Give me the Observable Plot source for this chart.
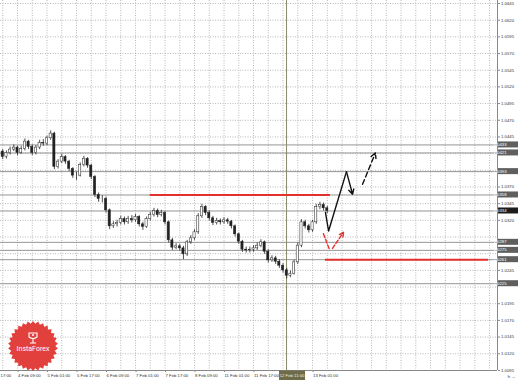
<!DOCTYPE html>
<html><head><meta charset="utf-8">
<script src="https://cdn.jsdelivr.net/npm/d3@7"></script>
<script src="https://cdn.jsdelivr.net/npm/@observablehq/plot@0.6"></script>
<style>body{margin:0;background:#fff;} #chart svg{display:block}</style>
</head><body><div id="chart"></div>
<script>
// ---- data (hourly trading index: 0 = 4 Feb 09:00, candles every 2 h) ----
const firstOpen = 1.0426;
const closes = [1.0423,1.0415,1.0421,1.0426,1.0429,1.0421,1.0427,1.0438,1.0430,1.0421,
1.0429,1.0436,1.0435,1.0443,1.0450,1.0400,1.0408,1.0415,1.0408,1.0397,
1.0387,1.0387,1.0403,1.0412,1.0402,1.0385,1.0358,1.0352,1.0352,1.0335,
1.0311,1.0314,1.0316,1.0322,1.0317,1.0322,1.0320,1.0325,1.0314,1.0310,
1.0322,1.0328,1.0334,1.0328,1.0331,1.0317,1.0290,1.0279,1.0281,1.0278,
1.0269,1.0287,1.0293,1.0302,1.0326,1.0340,1.0331,1.0323,1.0316,1.0319,
1.0317,1.0320,1.0318,1.0311,1.0299,1.0288,1.0276,1.0275,1.0276,1.0278,
1.0282,1.0287,1.0273,1.0260,1.0263,1.0258,1.0252,1.0245,1.0237,1.0240,
1.0257,1.0282,1.0317,1.0311,1.0305,1.0317,1.0340,1.0343,1.0338,1.0334];
const highs = [1.0430,1.0426,1.0424,1.0430,1.0433,1.0431,1.0431,1.0442,1.0440,1.0433,
1.0432,1.0440,1.0441,1.0446,1.0454,1.0452,1.0411,1.0419,1.0417,1.0410,
1.0399,1.0392,1.0406,1.0416,1.0414,1.0404,1.0387,1.0361,1.0357,1.0355,
1.0337,1.0318,1.0320,1.0326,1.0325,1.0326,1.0327,1.0329,1.0327,1.0317,
1.0325,1.0332,1.0338,1.0337,1.0335,1.0333,1.0319,1.0293,1.0285,1.0284,
1.0281,1.0290,1.0297,1.0306,1.0330,1.0344,1.0342,1.0334,1.0326,1.0323,
1.0322,1.0324,1.0323,1.0320,1.0313,1.0301,1.0290,1.0280,1.0280,1.0282,
1.0286,1.0291,1.0289,1.0276,1.0267,1.0266,1.0261,1.0255,1.0248,1.0244,
1.0260,1.0286,1.0321,1.0320,1.0314,1.0320,1.0344,1.0347,1.0346,1.0341];
const lows = [1.0419,1.0411,1.0412,1.0418,1.0423,1.0417,1.0419,1.0424,1.0426,1.0417,
1.0418,1.0426,1.0431,1.0432,1.0440,1.0396,1.0397,1.0405,1.0404,1.0393,
1.0383,1.0380,1.0385,1.0400,1.0398,1.0381,1.0354,1.0347,1.0346,1.0331,
1.0306,1.0308,1.0310,1.0313,1.0313,1.0314,1.0316,1.0317,1.0310,1.0305,
1.0308,1.0319,1.0325,1.0324,1.0325,1.0313,1.0286,1.0275,1.0276,1.0274,
1.0261,1.0266,1.0284,1.0290,1.0299,1.0323,1.0327,1.0319,1.0312,1.0313,
1.0313,1.0314,1.0314,1.0307,1.0295,1.0284,1.0272,1.0271,1.0271,1.0272,
1.0275,1.0279,1.0269,1.0256,1.0257,1.0254,1.0248,1.0241,1.0232,1.0234,
1.0238,1.0254,1.0279,1.0307,1.0301,1.0302,1.0314,1.0336,1.0334,1.0330];

// horizontal levels (gray) and their right-axis boxes
const levels = [1.0433, 1.0421, 1.0393, 1.0358, 1.0334, 1.0287, 1.0275, 1.0261, 1.0225];
const bidLevel = 1.0334;
// red levels
const redPrices = [1.0358, 1.0261];
const redStart = [72, 167];
const redEnd = [169.7, 255.4];
// black forecast path
const fcHours = [167.0, 168.7, 178.4, 181.7];
const fcPrices = [1.0332, 1.0304, 1.0393, 1.0359];
// black dashed forecast arrow
const dashHours = [187.1, 194.1];
const dashPrices = [1.0374, 1.0421];
// red alternative
const redAltHours = [165.9, 169.2, 170.8, 176.8];
const redAltPrices = [1.0300, 1.0276, 1.0278, 1.0302];

// axes
const yTicksAll = d3.range(1.0095, 1.06451, 0.0025);
const xTickHours = [-16, 0, 16, 32, 48, 64, 80, 96, 112, 128, 144, 160];
const xTickLabels = ["3 Feb 17:00","4 Feb 09:00","5 Feb 01:00","5 Feb 17:00","6 Feb 09:00","7 Feb 01:00",
  "7 Feb 17:00","8 Feb 09:00","11 Feb 01:00","11 Feb 17:00","12 Feb 09:00","13 Feb 01:00"];
const gridHours = d3.range(-8, 261, 8);
const crossHour = 145.9;
const crossLabel = "12 Feb 11:00";

// ---- build table ----
const candles = closes.map((c, i) => {
  const o = i === 0 ? firstOpen : closes[i - 1];
  return {h: -10 + 2 * i, open: o, close: c, high: highs[i], low: lows[i], up: c >= o};
});
// scale labels hidden behind level boxes (as the terminal does)
const yLabelTicks = yTicksAll.filter(t => levels.every(l => Math.abs(l - t) > 0.00085));
// time labels hidden behind the crosshair label
const xLabelHours = xTickHours.filter(h => Math.abs(h - crossHour) > 10);
const labelOf = new Map(xTickHours.map((h, i) => [h, xTickLabels[i]]));
const RED = "#e3302d";
const FONT = "Liberation Sans, Arial, sans-serif";

const plot = Plot.plot({
  width: 518, height: 380,
  marginLeft: 0, marginRight: 21, marginTop: 0, marginBottom: 10,
  style: {fontFamily: FONT, fontSize: "4.25px", color: "#333", background: "#fff"},
  x: {domain: [-9.22, 260.3], axis: null},
  y: {domain: [1.00949, 1.06495], axis: null},
  marks: [
    Plot.gridY(yTicksAll, {stroke: "#b8b8b8", strokeOpacity: 1, strokeDasharray: "1,1.5"}),
    Plot.gridX(gridHours, {stroke: "#b8b8b8", strokeOpacity: 1, strokeDasharray: "1,1.5"}),
    Plot.ruleY(levels, {stroke: "#959595", strokeWidth: 1}),
    Plot.ruleX([crossHour], {stroke: "#8c8a6c", strokeWidth: 1}),
    Plot.ruleY(redPrices.map((_, i) => i), {y: i => redPrices[i], x1: i => redStart[i], x2: i => redEnd[i], stroke: RED, strokeWidth: 2}),
    Plot.ruleX(candles, {x: "h", y1: "low", y2: "high", stroke: "#222", strokeWidth: 0.8}),
    Plot.rect(candles, {x1: d => d.h - 0.6, x2: d => d.h + 0.6, y1: "open", y2: "close",
      fill: d => d.up ? "#fff" : "#222", stroke: "#222", strokeWidth: 0.5}),
    Plot.line(fcHours.slice(0, 3).map((h, i) => ({h, p: fcPrices[i]})), {x: "h", y: "p", stroke: "#111", strokeWidth: 1.4}),
    Plot.arrow([0], {x1: fcHours[2], y1: fcPrices[2], x2: fcHours[3], y2: fcPrices[3], stroke: "#111", strokeWidth: 1.4, headLength: 6, headAngle: 55}),
    Plot.arrow([0], {x1: dashHours[0], y1: dashPrices[0], x2: dashHours[1], y2: dashPrices[1], stroke: "#111", strokeWidth: 1.4, headLength: 6, headAngle: 55, strokeDasharray: "5,3"}),
    Plot.line(redAltHours.slice(0, 2).map((h, i) => ({h, p: redAltPrices[i]})), {x: "h", y: "p", stroke: RED, strokeWidth: 1.4, strokeDasharray: "4,2"}),
    Plot.arrow([0], {x1: redAltHours[2], y1: redAltPrices[2], x2: redAltHours[3], y2: redAltPrices[3], stroke: RED, strokeWidth: 1.4, headLength: 5, headAngle: 55, strokeDasharray: "4,2"}),
    Plot.ruleX([260.3], {stroke: "#888", strokeWidth: 1}),
    Plot.ruleY([1.00949], {stroke: "#888", strokeWidth: 1}),
    Plot.axisY({anchor: "right", ticks: yLabelTicks, tickFormat: d3.format(".4f"), tickSize: 2, tickPadding: 1.5, fontSize: 4.25, stroke: "#888"}),
    Plot.axisX({anchor: "bottom", ticks: xLabelHours, tickFormat: d => labelOf.get(d), tickSize: 2, tickPadding: 1.5, textAnchor: "start", dx: 0.5, fontSize: 4.25, stroke: "#888"})
  ]
});

document.getElementById("chart").append(plot);

// ---- overlays positioned with Plot's own scales ----
const xs = plot.scale("x"), ys = plot.scale("y");
const svg = d3.select(plot);
const ov = svg.append("g").attr("font-family", FONT);

// level boxes on right axis
levels.forEach(v => {
  const y = ys.apply(v);
  const isBid = v === bidLevel;
  ov.append("rect").attr("x", 498).attr("y", y - 3).attr("width", 20).attr("height", 6)
    .attr("fill", isBid ? "#1c1c1c" : "#5f5f5f");
  ov.append("text").attr("x", 500).attr("y", y).attr("dy", "0.34em")
    .attr("font-size", 4.25).attr("fill", "#fff").text(d3.format(".4f")(v));
});

// crosshair time label (sits just right of the "11 Feb 17:00" label)
const cx = xs.apply(crossHour);
ov.append("rect").attr("x", cx - 7).attr("y", 370.5).attr("width", 26).attr("height", 9.5).attr("fill", "#6e6c48");
ov.append("text").attr("x", cx + 6).attr("y", 375.5).attr("dy", "0.34em").attr("text-anchor", "middle")
  .attr("font-size", 4.25).attr("fill", "#ecebd8").text(crossLabel);

// InstaForex badge
const bx = 33, by = 346, R = 25, r = 22.3, N = 30;
const pts = d3.range(2 * N).map(k => {
  const a = k * Math.PI / N - Math.PI / 2;
  const rr = k % 2 === 0 ? R : r;
  return [bx + rr * Math.cos(a), by + rr * Math.sin(a)];
});
const badge = ov.append("g");
badge.append("path").attr("d", "M" + pts.map(p => p.join(",")).join("L") + "Z").attr("fill", "#e2403c");
const icon = badge.append("g").attr("fill", "none").attr("stroke", "#fff").attr("stroke-width", 1.1);
icon.append("path").attr("d", `M${bx-4},${by-13} L${bx+4},${by-13} L${bx+4},${by-9} Q${bx},${by-6} ${bx-4},${by-9} Z`);
icon.append("path").attr("d", `M${bx},${by-8} L${bx},${by-3} M${bx-3},${by-3} L${bx+3},${by-3}`);
icon.append("circle").attr("cx", bx).attr("cy", by - 11).attr("r", 1).attr("fill", "#fff").attr("stroke", "none");
badge.append("text").attr("x", bx).attr("y", by + 5).attr("text-anchor", "middle")
  .attr("font-size", 7).attr("font-family", "Roboto, " + FONT).attr("fill", "#fff").text("InstaForex");
</script></body></html>
